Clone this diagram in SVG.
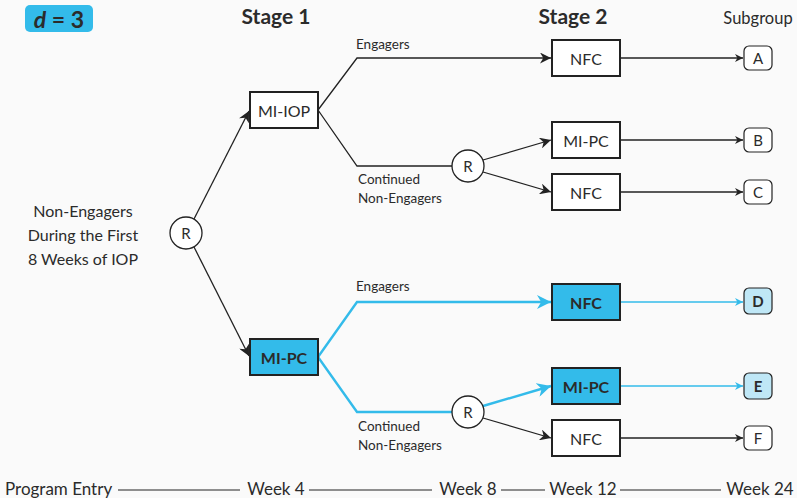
<svg xmlns="http://www.w3.org/2000/svg" width="797" height="498" viewBox="0 0 797 498">
  <style>
    text { font-family: Lato, "Noto Sans", sans-serif; fill: #2b2b2b; }
    .lbl { font-size: 16px; text-anchor: middle; dominant-baseline: central; }
    .small { font-size: 13.5px; }
    .head { font-size: 21px; font-weight: bold; text-anchor: middle; }
    .box { fill: #ffffff; stroke: #222; stroke-width: 2; }
    .boxhi { fill: #33bbea; stroke: #222; stroke-width: 2; }
    .bold { font-weight: bold; }
    .rnd { fill: #ffffff; stroke: #222; stroke-width: 1.3; }
    .sub { fill: #ffffff; stroke: #222; stroke-width: 1.2; }
    .subhi { fill: #bfe7f6; stroke: #222; stroke-width: 1.2; }
    .ln { fill: none; stroke: #222; stroke-width: 1.3; }
    .lnhi { fill: none; stroke: #33bbea; stroke-width: 2.4; }
    .lnhithin { fill: none; stroke: #33bbea; stroke-width: 1.3; }
    .axis { stroke: #222; stroke-width: 1.2; }
    .tl { font-size: 17px; text-anchor: middle; }
  </style>
  <defs>
    <marker id="arr" viewBox="0 0 10 10" refX="10" refY="5" markerWidth="11" markerHeight="11" markerUnits="userSpaceOnUse" orient="auto">
      <path d="M0,0 L10,5 L0,10 L3,5 z" fill="#222"/>
    </marker>
    <marker id="arrs" viewBox="0 0 10 10" refX="10" refY="5" markerWidth="8" markerHeight="8" markerUnits="userSpaceOnUse" orient="auto">
      <path d="M0,0 L10,5 L0,10 L3,5 z" fill="#222"/>
    </marker>
    <marker id="arrb" viewBox="0 0 10 10" refX="10" refY="5" markerWidth="14" markerHeight="14" markerUnits="userSpaceOnUse" orient="auto">
      <path d="M0,0 L10,5 L0,10 L3,5 z" fill="#33bbea"/>
    </marker>
    <marker id="arrbs" viewBox="0 0 10 10" refX="10" refY="5" markerWidth="8" markerHeight="8" markerUnits="userSpaceOnUse" orient="auto">
      <path d="M0,0 L10,5 L0,10 L3,5 z" fill="#33bbea"/>
    </marker>
  </defs>
  <rect width="797" height="498" fill="#fafafa"/>

  <!-- badge and headings -->
  <g id="badge">
    <rect x="25" y="5" width="68" height="27" rx="5" fill="#33bbea"/>
    <text x="59" y="19" class="lbl bold" style="font-size:23px"><tspan font-style="italic">d</tspan> = 3</text>
  </g>
  <text x="276" y="24" class="head">Stage 1</text>
  <text x="573" y="24" class="head">Stage 2</text>
  <text x="758" y="24" style="font-size:16.5px; text-anchor:middle">Subgroup</text>

  <!-- connectors -->
  <g id="connectors">
    <line class="ln" x1="194" y1="219" x2="249" y2="111" marker-end="url(#arr)"/>
    <line class="ln" x1="194" y1="247" x2="249" y2="356" marker-end="url(#arr)"/>
    <polyline class="ln" points="318,110 357,58 551,58" marker-end="url(#arr)"/>
    <polyline class="ln" points="318,110 357,166 452,166"/>
    <line class="ln" x1="483" y1="160" x2="551" y2="140" marker-end="url(#arr)"/>
    <line class="ln" x1="483" y1="172" x2="551" y2="192" marker-end="url(#arr)"/>
    <polyline class="lnhi" points="318,357 357,302 551,302" marker-end="url(#arrb)"/>
    <polyline class="lnhi" points="318,357 357,412 452,412"/>
    <line class="lnhi" x1="483" y1="406" x2="551" y2="386" marker-end="url(#arrb)"/>
    <line class="ln" x1="483" y1="418" x2="551" y2="438" marker-end="url(#arr)"/>
    <line class="ln" x1="621" y1="58" x2="743" y2="58" marker-end="url(#arrs)"/>
    <line class="ln" x1="621" y1="140" x2="743" y2="140" marker-end="url(#arrs)"/>
    <line class="ln" x1="621" y1="192" x2="743" y2="192" marker-end="url(#arrs)"/>
    <line class="lnhithin" x1="621" y1="302" x2="743" y2="302" marker-end="url(#arrbs)"/>
    <line class="lnhithin" x1="621" y1="386" x2="743" y2="386" marker-end="url(#arrbs)"/>
    <line class="ln" x1="621" y1="438" x2="743" y2="438" marker-end="url(#arrs)"/>
  </g>

  <!-- branch labels -->
  <text x="356" y="49" class="small">Engagers</text>
  <text x="358" y="184" class="small">Continued</text>
  <text x="358" y="203" class="small">Non-Engagers</text>
  <text x="356" y="291" class="small">Engagers</text>
  <text x="358" y="431" class="small">Continued</text>
  <text x="358" y="450" class="small">Non-Engagers</text>

  <!-- start population -->
  <g id="start">
    <text x="83" y="210" class="lbl">Non-Engagers</text>
    <text x="83" y="234" class="lbl">During the First</text>
    <text x="83" y="258" class="lbl">8 Weeks of IOP</text>
  </g>

  <g id="r0"><circle class="rnd" cx="186" cy="233" r="16"/><text x="186" y="233" class="lbl" style="font-size:15px">R</text></g>
  <g id="r1"><circle class="rnd" cx="468" cy="166" r="16"/><text x="468" y="166" class="lbl" style="font-size:15px">R</text></g>
  <g id="r2"><circle class="rnd" cx="468" cy="412" r="16"/><text x="468" y="412" class="lbl" style="font-size:15px">R</text></g>

  <!-- stage 1 -->
  <g id="s1-miiop"><rect class="box" x="250" y="92" width="68" height="36"/><text x="284" y="110" class="lbl">MI-IOP</text></g>
  <g id="s1-mipc"><rect class="boxhi" x="250" y="339" width="68" height="36"/><text x="284" y="357" class="lbl bold">MI-PC</text></g>

  <!-- stage 2 -->
  <g id="s2-a"><rect class="box" x="552" y="40" width="68" height="36"/><text x="586" y="58" class="lbl">NFC</text></g>
  <g id="s2-b"><rect class="box" x="552" y="122" width="68" height="36"/><text x="586" y="140" class="lbl">MI-PC</text></g>
  <g id="s2-c"><rect class="box" x="552" y="174" width="68" height="36"/><text x="586" y="192" class="lbl">NFC</text></g>
  <g id="s2-d"><rect class="boxhi" x="552" y="284" width="68" height="36"/><text x="586" y="302" class="lbl bold">NFC</text></g>
  <g id="s2-e"><rect class="boxhi" x="552" y="368" width="68" height="36"/><text x="586" y="386" class="lbl bold">MI-PC</text></g>
  <g id="s2-f"><rect class="box" x="552" y="420" width="68" height="36"/><text x="586" y="438" class="lbl">NFC</text></g>

  <!-- subgroups -->
  <g id="sg-a"><rect class="sub" x="744" y="46" width="28" height="24" rx="5"/><text x="758" y="58" class="lbl" style="font-size:15px">A</text></g>
  <g id="sg-b"><rect class="sub" x="744" y="128" width="28" height="24" rx="5"/><text x="758" y="140" class="lbl" style="font-size:15px">B</text></g>
  <g id="sg-c"><rect class="sub" x="744" y="180" width="28" height="24" rx="5"/><text x="758" y="192" class="lbl" style="font-size:15px">C</text></g>
  <g id="sg-d"><rect class="subhi" x="744" y="288" width="28" height="26" rx="5"/><text x="758" y="301" class="lbl bold" style="font-size:15px">D</text></g>
  <g id="sg-e"><rect class="subhi" x="744" y="373" width="28" height="26" rx="5"/><text x="758" y="386" class="lbl bold" style="font-size:15px">E</text></g>
  <g id="sg-f"><rect class="sub" x="744" y="426" width="28" height="24" rx="5"/><text x="758" y="438" class="lbl" style="font-size:15px">F</text></g>

  <!-- timeline -->
  <g id="timeline">
    <text x="5" y="495" class="tl" style="text-anchor:start">Program Entry</text>
    <line class="axis" x1="118" y1="490" x2="240" y2="490"/>
    <text x="276" y="495" class="tl">Week 4</text>
    <line class="axis" x1="309" y1="490" x2="432" y2="490"/>
    <text x="468" y="495" class="tl">Week 8</text>
    <line class="axis" x1="501" y1="490" x2="545" y2="490"/>
    <text x="583" y="495" class="tl">Week 12</text>
    <line class="axis" x1="620" y1="490" x2="721" y2="490"/>
    <text x="760" y="495" class="tl">Week 24</text>
  </g>
</svg>
